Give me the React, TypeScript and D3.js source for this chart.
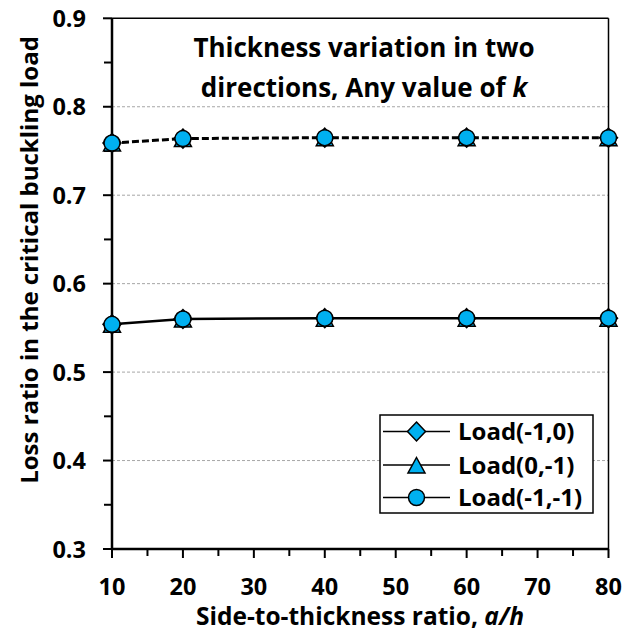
import React from "react";
import * as d3 from "d3";

const xValues = [10, 20, 40, 60, 80];
const upperSeries = [0.759, 0.764, 0.765, 0.765, 0.765];
const lowerSeries = [0.554, 0.560, 0.561, 0.561, 0.561];
const seriesNames = ["Load(-1,0)", "Load(0,-1)", "Load(-1,-1)"];
const markerTypes = ["diamond", "triangle", "circle"];
const yTicks = [0.3, 0.4, 0.5, 0.6, 0.7, 0.8, 0.9];
const yMinorTicks = [0.35, 0.45, 0.55, 0.65, 0.75, 0.85];
const xTicks = [10, 20, 30, 40, 50, 60, 70, 80];
const xMinorTicks = [15, 25, 35, 45, 55, 65, 75];
const gridValues = [0.4, 0.5, 0.6, 0.7, 0.8];

const FONT = "'Open Sans', sans-serif";
const FILL = "#00B0F0";

function Marker({ type, x, y }: { type: string; x: number; y: number }) {
  if (type === "circle") {
    return <circle cx={x} cy={y} r={8} fill={FILL} stroke="#000" strokeWidth={1.5} />;
  }
  if (type === "triangle") {
    const d = `M${x},${y - 7.5}L${x + 8.5},${y + 8}L${x - 8.5},${y + 8}Z`;
    return <path d={d} fill={FILL} stroke="#000" strokeWidth={1.5} />;
  }
  const d = `M${x},${y - 9.5}L${x + 9}${","}${y}L${x},${y + 9.5}L${x - 9},${y}Z`;
  return <path d={d} fill={FILL} stroke="#000" strokeWidth={1.5} />;
}

export default function App() {
  const W = 624, H = 639;
  const left = 112, right = 608.5, top = 18.3, bottom = 549;
  const x = d3.scaleLinear().domain([10, 80]).range([left, right]);
  const y = d3.scaleLinear().domain([0.3, 0.9]).range([bottom, top]);
  const line = d3.line<number>().x((_, i) => x(xValues[i])).y((v) => y(v));

  const legend = { x0: 380, y0: 415, x1: 593, y1: 513 };
  const rowY = [431.5, 465, 497.5];

  return (
    <svg width={W} height={H} style={{ position: "absolute", left: 0, top: 0, background: "#fff" }}>
      <rect x={0} y={0} width={W} height={H} fill="#fff" />
      {gridValues.map((g) => (
        <line key={g} x1={left} x2={right} y1={y(g)} y2={y(g)} stroke="#A6A6A6" strokeWidth={1} strokeDasharray="3,2" />
      ))}
      <line x1={left} x2={right} y1={top} y2={top} stroke="#000" strokeWidth={1.5} />
      <line x1={right} x2={right} y1={top} y2={bottom} stroke="#000" strokeWidth={1.5} />
      <line x1={left} x2={left} y1={top} y2={bottom} stroke="#000" strokeWidth={2.5} />
      <line x1={left} x2={right} y1={bottom} y2={bottom} stroke="#000" strokeWidth={2.5} />
      {yTicks.map((t) => (
        <g key={t}>
          <line x1={left - 9} x2={left} y1={y(t)} y2={y(t)} stroke="#000" strokeWidth={2} />
          <text x={86} y={y(t) + 8.5} textAnchor="end" fontFamily={FONT} fontWeight="bold" fontSize={23.5}>
            {t.toFixed(1)}
          </text>
        </g>
      ))}
      {yMinorTicks.map((t) => (
        <line key={t} x1={left - 8} x2={left} y1={y(t)} y2={y(t)} stroke="#000" strokeWidth={2} />
      ))}
      {xTicks.map((t) => (
        <g key={t}>
          <line x1={x(t)} x2={x(t)} y1={bottom} y2={bottom + 9} stroke="#000" strokeWidth={2} />
          <text x={x(t)} y={595} textAnchor="middle" fontFamily={FONT} fontWeight="bold" fontSize={23.5}>
            {t}
          </text>
        </g>
      ))}
      {xMinorTicks.map((t) => (
        <line key={t} x1={x(t)} x2={x(t)} y1={bottom} y2={bottom + 7} stroke="#000" strokeWidth={2} />
      ))}
      <path d={line(upperSeries) || ""} fill="none" stroke="#000" strokeWidth={3} strokeDasharray="7,3" />
      <path d={line(lowerSeries) || ""} fill="none" stroke="#000" strokeWidth={2.5} />
      {markerTypes.map((m) =>
        upperSeries.map((v, i) => <Marker key={`u${m}${i}`} type={m} x={x(xValues[i])} y={y(v)} />)
      )}
      {markerTypes.map((m) =>
        lowerSeries.map((v, i) => <Marker key={`l${m}${i}`} type={m} x={x(xValues[i])} y={y(v)} />)
      )}
      <text x={364} y={57} textAnchor="middle" fontFamily={FONT} fontWeight="bold" fontSize={26}>
        Thickness variation in two
      </text>
      <text x={364} y={97} textAnchor="middle" fontFamily={FONT} fontWeight="bold" fontSize={26}>
        directions, Any value of <tspan fontStyle="italic">k</tspan>
      </text>
      <rect x={legend.x0} y={legend.y0} width={legend.x1 - legend.x0} height={legend.y1 - legend.y0} fill="#fff" stroke="#000" strokeWidth={1.5} />
      {seriesNames.map((n, i) => (
        <g key={n}>
          <line x1={383} x2={450} y1={rowY[i]} y2={rowY[i]} stroke="#000" strokeWidth={1.5} />
          <Marker type={markerTypes[i]} x={416.5} y={rowY[i]} />
          <text x={458} y={rowY[i] + 8.5} fontFamily={FONT} fontWeight="bold" fontSize={24}>
            {n}
          </text>
        </g>
      ))}
      <text x={360} y={625} textAnchor="middle" fontFamily={FONT} fontWeight="bold" fontSize={24.5}>
        Side-to-thickness ratio, <tspan fontStyle="italic">a/h</tspan>
      </text>
      <text transform={`translate(38,260) rotate(-90)`} textAnchor="middle" fontFamily={FONT} fontWeight="bold" fontSize={24}>
        Loss ratio in the critical buckling load
      </text>
    </svg>
  );
}
